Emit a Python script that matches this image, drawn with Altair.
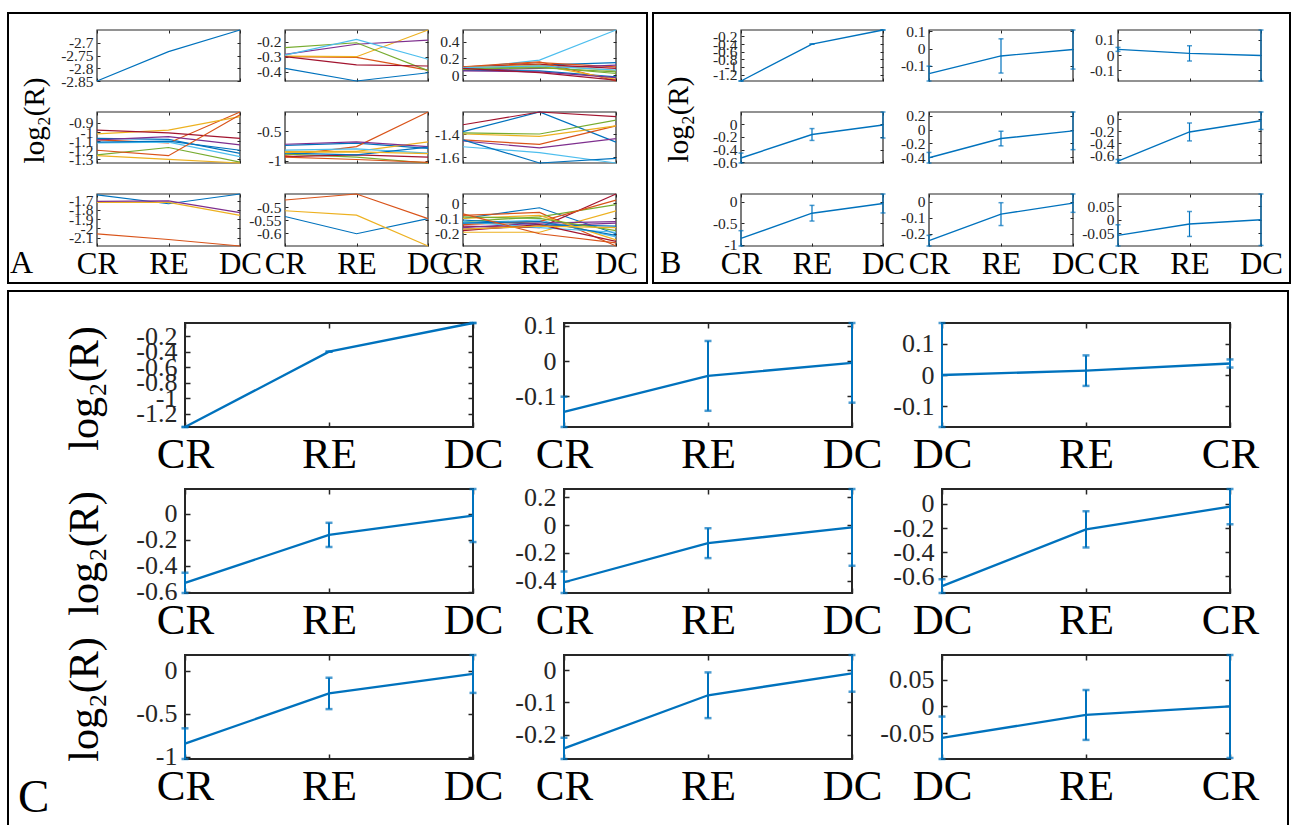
import altair as alt
import pandas as pd

# ---------------- data ----------------
STAGES = ["CR", "RE", "DC"]
STAGES_REV = ["DC", "RE", "CR"]
MATLAB = ["#0072BD", "#D95319", "#EDB120", "#7E2F8E", "#77AC30", "#4DBEEE", "#A2142F"]

# Panel A: individual traces (values at the three stages, left to right)
A11 = [[-2.85, -2.735, -2.65]]
A12 = [
    [-0.378, -0.462, -0.407], [-0.300, -0.305, -0.389], [-0.296, -0.300, -0.122],
    [-0.285, -0.217, -0.189], [-0.240, -0.207, -0.393], [-0.289, -0.184, -0.317],
    [-0.300, -0.355, -0.362],
]
A13 = [
    [0.07, 0.12, 0.15], [0.09, 0.15, 0.10], [0.08, 0.13, 0.05], [0.06, 0.08, 0.12],
    [0.08, 0.10, 0.02], [0.08, 0.18, 0.54], [0.10, 0.13, 0.08], [0.06, 0.05, -0.02],
    [0.10, 0.16, -0.07], [0.09, 0.12, -0.05], [0.05, 0.04, -0.03], [0.07, 0.09, 0.04],
    [0.09, 0.11, 0.06], [0.08, 0.03, -0.06],
]
A21 = [
    [-1.07, -1.08, -1.235], [-1.085, -1.12, -0.78], [-1.02, -0.98, -0.83],
    [-1.085, -1.05, -1.14], [-1.25, -1.17, -1.33], [-1.12, -1.11, -1.27],
    [-0.98, -1.01, -1.07], [-1.11, -1.10, -1.20], [-1.20, -1.26, -0.81],
    [-1.26, -1.30, -1.34],
]
A22 = [
    [-0.74, -0.70, -0.79], [-0.91, -0.76, -0.17], [-0.84, -0.84, -0.68],
    [-0.72, -0.68, -0.76], [-0.89, -0.94, -1.04], [-0.82, -0.80, -0.87],
    [-0.93, -0.90, -0.94], [-0.87, -0.90, -0.77], [-0.94, -0.98, -1.03],
    [-0.86, -0.85, -0.88],
]
A23 = [
    [-1.38, -1.21, -1.47], [-1.45, -1.49, -1.33], [-1.40, -1.42, -1.33],
    [-1.46, -1.52, -1.44], [-1.39, -1.40, -1.28], [-1.51, -1.56, -1.65],
    [-1.32, -1.21, -1.25], [-1.45, -1.65, -1.61],
]
A31 = [[-1.64, -1.735, -1.63], [-2.06, -2.12, -2.19], [-1.72, -1.72, -1.86], [-1.71, -1.705, -1.83]]
A32 = [[-0.535, -0.601, -0.543], [-0.472, -0.449, -0.543], [-0.513, -0.530, -0.648]]
A33 = [
    [-0.10, -0.03, -0.20], [-0.08, -0.06, -0.28], [-0.19, -0.19, -0.05], [-0.17, -0.15, -0.13],
    [-0.12, -0.09, -0.01], [-0.13, -0.11, -0.22], [-0.15, -0.16, 0.06], [-0.11, -0.14, -0.15],
    [-0.14, -0.12, 0.02], [-0.10, -0.08, -0.24], [-0.16, -0.13, -0.12], [-0.09, -0.10, -0.18],
    [-0.12, -0.16, -0.19], [-0.18, -0.14, -0.25], [-0.13, -0.12, -0.21], [-0.07, -0.20, -0.26],
    [-0.17, -0.15, -0.16],
]
A_LINES = [[A11, A12, A13], [A21, A22, A23], [A31, A32, A33]]
A_TICKS = [
    [[-2.7, -2.75, -2.8, -2.85], [-0.2, -0.3, -0.4], [0.4, 0.2, 0]],
    [[-0.9, -1, -1.1, -1.2, -1.3], [-0.5, -1], [-1.4, -1.6]],
    [[-1.7, -1.8, -1.9, -2, -2.1], [-0.5, -0.55, -0.6], [0, -0.1, -0.2]],
]

# Panel C: mean and error (values left to right as displayed)
C_MEAN = [
    [[-1.37, -0.40, -0.03], [-0.144, -0.042, -0.005], [0.0, 0.014, 0.037]],
    [[-0.532, -0.163, -0.014], [-0.41, -0.13, -0.017], [-0.68, -0.21, -0.022]],
    [[-0.848, -0.265, -0.039], [-0.243, -0.078, -0.01], [-0.059, -0.016, 0.0]],
]
C_ERR = [
    [[0, 0, 0], [0.043, 0.099, 0.113], [0.167, 0.049, 0.013]],
    [[0.078, 0.093, 0.204], [0.077, 0.107, 0.275], [0.057, 0.15, 0.146]],
    [[0.178, 0.182, 0.22], [0.033, 0.071, 0.057], [0.04, 0.047, 0.097]],
]
# Panel B: same summaries, first-row right plot drawn mirrored
B_MEAN = [
    [[-1.37, -0.40, -0.03], [-0.144, -0.042, -0.005], [0.037, 0.011, -0.003]],
    [[-0.532, -0.163, -0.014], [-0.41, -0.13, -0.017], [-0.70, -0.21, -0.022]],
    [[-0.848, -0.265, -0.039], [-0.243, -0.078, -0.01], [-0.059, -0.016, 0.0]],
]
B_ERR = [
    [[0, 0, 0], [0.043, 0.099, 0.113], [0.013, 0.05, 0.167]],
    [[0.078, 0.093, 0.204], [0.077, 0.107, 0.275], [0.03, 0.15, 0.146]],
    [[0.178, 0.182, 0.22], [0.033, 0.071, 0.057], [0.04, 0.047, 0.097]],
]
BC_TICKS = [
    [[-0.2, -0.4, -0.6, -0.8, -1, -1.2], [0.1, 0, -0.1], [0.1, 0, -0.1]],
    [[0, -0.2, -0.4, -0.6], [0.2, 0, -0.2, -0.4], [0, -0.2, -0.4, -0.6]],
    [[0, -0.5, -1], [0, -0.1, -0.2], [0.05, 0, -0.05]],
]
C_ORDERS = [STAGES, STAGES, STAGES_REV]
Y_TITLE = "log\u2082(R)"

# ---------------- layout / style ----------------
W, H = 1291, 825
SERIF = "Liberation Serif, Times New Roman, Times, serif"
AXC = "#262626"
BLUE = "#0072BD"

A_COLS = [(97, 240), (285, 428), (463, 616)]
B_COLS = [(741, 883), (929, 1073), (1118, 1261)]
AB_ROWS = [(30, 81), (112, 163), (194, 246)]
C_COLS = [(185, 473), (564, 852), (942, 1230)]
C_ROWS = [(323, 427), (489, 593), (655, 759)]

ST_A = dict(T=3, tw=1, bw=1.2, yfs=15.5, ypad=4, xfs=31, xpad=27, lw=1.2, ew=1.2, cs=5, ct=1.5, tfs=29)
ST_B = dict(ST_A, lw=1.4)
ST_C = dict(T=5, tw=1.5, bw=2, yfs=26, ypad=8, xfs=43, xpad=40, lw=2.3, ew=2, cs=7, ct=2.5, tfs=42)


def subplot(lines, colors, order, xr, yr, yticks, st, errs=None, xlabels=True, ytitle=None):
    x0, x1 = xr
    yt, yb = yr
    T = st["T"]
    rows = []
    for i, vals in enumerate(lines):
        for k, v in enumerate(vals):
            rows.append({"lid": i, "k": k, "v": v, "col": colors[i % len(colors)]})
    df = pd.DataFrame(rows)
    if errs is None:
        lo = min(min(l) for l in lines)
        hi = max(max(l) for l in lines)
    else:
        lo = min(v - e for v, e in zip(lines[0], errs))
        hi = max(v + e for v, e in zip(lines[0], errs))
    lo, hi = float(lo), float(hi)
    xs = alt.Scale(domain=[0, 2], range=[x0, x1], nice=False, zero=False)
    ys = alt.Scale(domain=[lo, hi], range=[yb, yt], nice=False, zero=False)
    label_expr = "[" + ",".join("'%s'" % s for s in order) + "][datum.value]"
    tick_common = dict(tickSize=T, tickWidth=st["tw"], tickColor=AXC, domain=False, grid=False, title=None)

    x_bottom = alt.Axis(
        orient="bottom", offset=(yb - T) - H, values=[0, 1, 2], labels=xlabels,
        labelExpr=label_expr, labelFont=SERIF, labelFontSize=st["xfs"], labelColor="black",
        labelPadding=st["xpad"], labelBaseline="alphabetic", labelAlign="center",
        labelOverlap=False, labelFlush=False, **tick_common)
    ykw = dict(
        orient="left", offset=-(x0 + T), values=yticks, labelExpr="datum.value + ''",
        labelFont=SERIF, labelFontSize=st["yfs"], labelColor=AXC, labelPadding=st["ypad"],
        labelAlign="right", labelBaseline="middle", labelOverlap=False, labelFlush=False,
        tickSize=T, tickWidth=st["tw"], tickColor=AXC, domain=False, grid=False)
    if ytitle is not None:
        ykw.update(title=Y_TITLE, titleX=ytitle[0] - (x0 + T), titleY=ytitle[1], titleAngle=270,
                   titleFont=SERIF, titleFontSize=st["tfs"], titleFontWeight="normal",
                   titleColor="black", titleBaseline="alphabetic", titleAlign="center")
    else:
        ykw.update(title=None)
    y_left = alt.Axis(**ykw)
    x_top = alt.Axis(orient="top", offset=-(yt + T), values=[0, 1, 2], labels=False, **tick_common)
    y_right = alt.Axis(orient="right", offset=(x1 - T) - W, values=yticks, labels=False, **tick_common)

    box = alt.Chart(alt.Data(values=[{}])).mark_rect(
        fillOpacity=0, stroke=AXC, strokeWidth=st["bw"]).encode(
        x=alt.XDatum(0, type="quantitative", scale=xs, axis=x_top),
        x2=alt.X2Datum(2),
        y=alt.YDatum(lo, type="quantitative", scale=ys, axis=y_right),
        y2=alt.Y2Datum(hi),
    )
    line = alt.Chart(df).mark_line(strokeWidth=st["lw"]).encode(
        x=alt.X("k:Q", scale=xs, axis=x_bottom),
        y=alt.Y("v:Q", scale=ys, axis=y_left),
        color=alt.Color("col:N", scale=None),
        detail="lid:N",
        order="k:Q",
    )
    layers = [box, line]
    if errs is not None:
        edf = pd.DataFrame({"k": [0, 1, 2],
                            "lo": [v - e for v, e in zip(lines[0], errs)],
                            "hi": [v + e for v, e in zip(lines[0], errs)]})
        cdf = pd.DataFrame({"k": [0, 1, 2, 0, 1, 2], "c": list(edf["lo"]) + list(edf["hi"])})
        rule = alt.Chart(edf).mark_rule(color=BLUE, strokeWidth=st["ew"]).encode(
            x=alt.X("k:Q", scale=xs, axis=None),
            y=alt.Y("lo:Q", scale=ys, axis=None),
            y2="hi:Q",
        )
        caps = alt.Chart(cdf).mark_tick(orient="horizontal", size=st["cs"], thickness=st["ct"], color=BLUE).encode(
            x=alt.X("k:Q", scale=xs, axis=None),
            y=alt.Y("c:Q", scale=ys, axis=None),
        )
        layers += [rule, caps]
    return alt.layer(*layers).resolve_axis(x="independent", y="independent")


charts = []
# Panel A
for r in range(3):
    for c in range(3):
        charts.append(subplot(
            A_LINES[r][c], MATLAB, STAGES, A_COLS[c], AB_ROWS[r], A_TICKS[r][c], ST_A,
            xlabels=(r == 2), ytitle=(43, 120) if (r == 1 and c == 0) else None))
# Panel B
for r in range(3):
    for c in range(3):
        charts.append(subplot(
            [B_MEAN[r][c]], [BLUE], STAGES, B_COLS[c], AB_ROWS[r], BC_TICKS[r][c], ST_B,
            errs=B_ERR[r][c], xlabels=(r == 2), ytitle=(687, 119) if (r == 1 and c == 0) else None))
# Panel C
C_TITLE_Y = [388, 553, 699]
for r in range(3):
    for c in range(3):
        charts.append(subplot(
            [C_MEAN[r][c]], [BLUE], C_ORDERS[c], C_COLS[c], C_ROWS[r], BC_TICKS[r][c], ST_C,
            errs=C_ERR[r][c], xlabels=True, ytitle=(97, C_TITLE_Y[r]) if c == 0 else None))


def frame(x0, x1, y0, y1):
    return alt.Chart(alt.Data(values=[{}])).mark_rect(
        fillOpacity=0, stroke="black", strokeWidth=2).encode(
        x=alt.value(x0), x2=alt.value(x1), y=alt.value(y0), y2=alt.value(y1))


def letter(t, x, y, size):
    return alt.Chart(alt.Data(values=[{}])).mark_text(
        text=t, font=SERIF, fontSize=size, align="left", baseline="alphabetic", color="black").encode(
        x=alt.value(x), y=alt.value(y))


decor = [
    frame(8, 647, 13, 283), frame(653, 1290, 13, 283), frame(8, 1288, 291, 840),
    letter("A", 10, 273, 32), letter("B", 660, 273, 32), letter("C", 18, 812, 47),
]

chart = alt.layer(*charts, *decor).resolve_scale(
    x="independent", y="independent").resolve_axis(
    x="independent", y="independent").properties(
    width=W, height=H, autosize=alt.AutoSizeParams(type="none"), padding=0,
    background="white").configure_view(stroke="transparent")

chart.save("out.html", embed_options={"renderer": "svg", "actions": False})
